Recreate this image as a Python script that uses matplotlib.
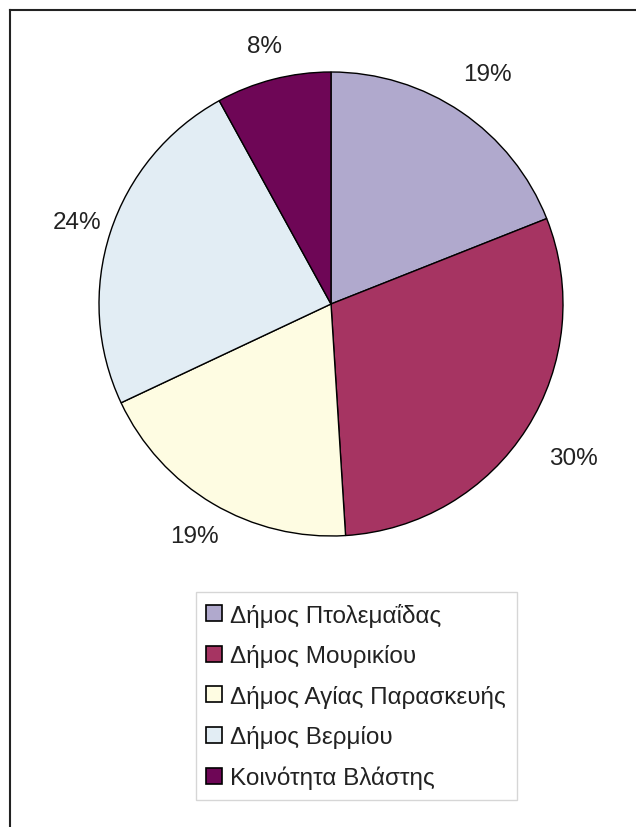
import matplotlib
matplotlib.use("Agg")
from matplotlib import pyplot as plt
from matplotlib.lines import Line2D
import numpy as np

plt.rcParams["font.family"] = ["Liberation Sans", "DejaVu Sans"]

# Data
LABELS = [
    "Δήμος Πτολεμαΐδας",
    "Δήμος Μουρικίου",
    "Δήμος Αγίας Παρασκευής",
    "Δήμος Βερμίου",
    "Κοινότητα Βλάστης",
]
SHARES = [19, 30, 19, 24, 8]
COLOURS = ["#B0A9CD", "#A63462", "#FEFCE2", "#E2EDF4", "#6E0656"]
# how far out each percent label sits (in pie radii), as Excel placed them
LABEL_DIST = [1.2, 1.24, 1.16, 1.15, 1.15]

fig = plt.figure(figsize=(6.36, 8.28), dpi=100)
ax = fig.add_axes([99 / 636, 291 / 828, 464 / 636, 464 / 828])

wedges, texts = ax.pie(
    SHARES,
    colors=COLOURS,
    startangle=90,
    counterclock=False,
    wedgeprops=dict(edgecolor="black", linewidth=1.0),
)
for w, share, d in zip(wedges, SHARES, LABEL_DIST):
    mid = np.deg2rad((w.theta1 + w.theta2) / 2)
    ax.text(d * np.cos(mid), d * np.sin(mid), f"{share}%",
            ha="center", va="center", fontsize=17.5, color="#222222",
            clip_on=False)
ax.set_xlim(-1, 1)
ax.set_ylim(-1, 1)
ax.set_aspect("equal")

# legend with square patches
handles = [
    Line2D([], [], marker="s", linestyle="none", markersize=11,
           markerfacecolor=c, markeredgecolor="black", markeredgewidth=1.2)
    for c in COLOURS
]
leg = fig.legend(
    handles, LABELS,
    loc="upper left",
    bbox_to_anchor=(196 / 636, 1 - 593 / 828),
    fontsize=17.5,
    frameon=True,
    fancybox=False,
    edgecolor="#cccccc",
    labelspacing=0.72,
    handlelength=0.6,
    handletextpad=0.35,
    borderpad=0.45,
    borderaxespad=0,
)
leg.get_frame().set_linewidth(1.0)
for t in leg.get_texts():
    t.set_color("#222222")

# partial outer frame: left and top edges only
fig.add_artist(Line2D([10 / 636, 10 / 636], [0, 1 - 11 / 828],
                      transform=fig.transFigure, color="#222222", linewidth=1.5))
fig.add_artist(Line2D([10 / 636, 1], [1 - 11 / 828, 1 - 11 / 828],
                      transform=fig.transFigure, color="#222222", linewidth=1.5))

fig.savefig("out.png", dpi=100, facecolor="white")
